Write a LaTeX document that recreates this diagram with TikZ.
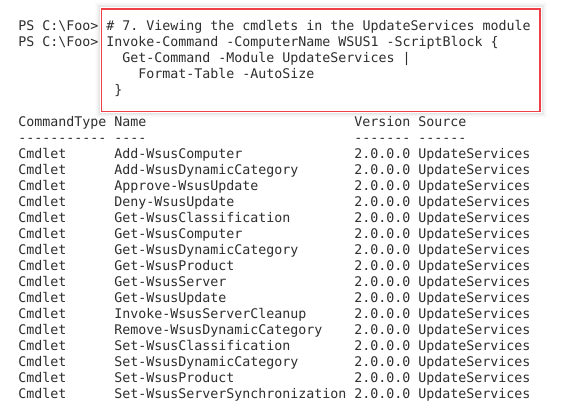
\documentclass[tikz,border=0pt]{standalone}
\usepackage{fontspec}
\setmonofont{DejaVu Sans Mono}
\definecolor{psred}{HTML}{EE4046}
\definecolor{pstext}{HTML}{2E2E2E}

\begin{document}
\begin{tikzpicture}[x=1pt,y=-1pt,
  txt/.style={anchor=base west,inner sep=0pt,outer sep=0pt,text=pstext,
    font=\ttfamily\fontsize{13.3}{16}\selectfont\frenchspacing},
  hilite/.style={draw=psred,line width=1.3pt,inner sep=0pt}]
\useasboundingbox[fill=white] (0,0) rectangle (567,417);

% red box round the command, with a soft grey glow
\node[hilite,anchor=north west,minimum width=438.6pt,minimum height=102.2pt] (cmdbox) at (100.7,8.5) {};
\foreach \d/\o in {1.5/0.10,2.5/0.07,3.5/0.045,4.5/0.025,5.5/0.012}
\draw[black,opacity=\o,line width=1pt] ([shift={(-\d,-\d)}]cmdbox.north west) rectangle ([shift={(\d,\d)}]cmdbox.south east);

% prompt and command
\node[txt] (p1) at (18.3,30.3) {PS C:\textbackslash Foo>};
\node[txt] (c1) at (106.3,30.3) {\# 7. Viewing the cmdlets in the UpdateServices module};
\node[txt] (p2) at (18.3,46.3) {PS C:\textbackslash Foo>};
\node[txt] (c2) at (106.3,46.3) {Invoke-Command -ComputerName WSUS1 -ScriptBlock \{};
\node[txt] (c3) at (122.3,62.3) {Get-Command -Module UpdateServices |};
\node[txt] (c4) at (138.3,78.3) {Format-Table -AutoSize};
\node[txt] (c5) at (114.3,94.3) {\}};

% table header
\node[txt] (htype) at (18.3,126.3) {CommandType};
\node[txt] (hname) at (114.3,126.3) {Name};
\node[txt] (hver) at (354.3,126.3) {Version};
\node[txt] (hsrc) at (418.3,126.3) {Source};
\node[txt] (dtype) at (18.3,142.3) {-----------};
\node[txt] (dname) at (114.3,142.3) {----};
\node[txt] (dver) at (354.3,142.3) {-------};
\node[txt] (dsrc) at (418.3,142.3) {------};

% table rows
\foreach \cmd [count=\i] in {Add-WsusComputer,Add-WsusDynamicCategory,Approve-WsusUpdate,
  Deny-WsusUpdate,Get-WsusClassification,Get-WsusComputer,Get-WsusDynamicCategory,
  Get-WsusProduct,Get-WsusServer,Get-WsusUpdate,Invoke-WsusServerCleanup,
  Remove-WsusDynamicCategory,Set-WsusClassification,Set-WsusDynamicCategory,
  Set-WsusProduct,Set-WsusServerSynchronization}
{
\node[txt] (type\i) at (18.3,{142.3+16*\i}) {Cmdlet};
\node[txt] (name\i) at (114.3,{142.3+16*\i}) {\cmd};
\node[txt] (ver\i) at (354.3,{142.3+16*\i}) {2.0.0.0};
\node[txt] (src\i) at (418.3,{142.3+16*\i}) {UpdateServices};
}

\end{tikzpicture}
\end{document}
